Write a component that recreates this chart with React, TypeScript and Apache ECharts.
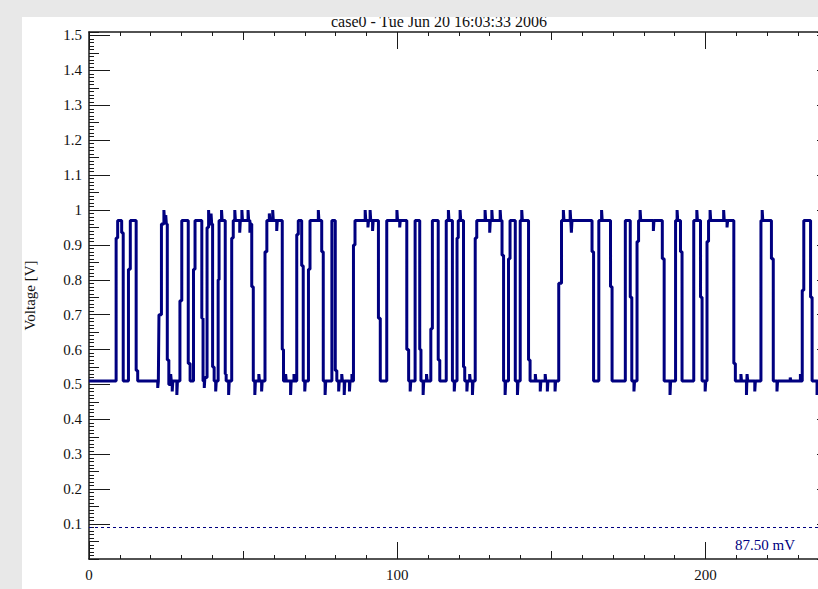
import React, { useEffect, useRef } from "react";
import * as echarts from "echarts";

const TITLE = "case0 - Tue Jun 20 16:03:33 2006";
const X_NAME = "Time [ns]";
const Y_NAME = "Voltage [V]";
const X_MIN = 0;
const X_MAX = 243;
const Y_MIN = 0;
const Y_MAX = 1.51;
const THRESHOLD = 0.0875;
const THRESHOLD_LABEL = "87.50 mV";

// Each point: level (V) held from that time (ns) until the next point.
const times = [
  0, 8.8, 9.3, 10.6, 11.1, 12.8, 13.4, 15.3, 15.8, 22.3, 22.5, 22.7, 23.5, 24.3, 24.5, 24.9, 25.1, 25.4, 25.9,
  26.5, 26.7, 27.0, 27.2, 28.5, 28.7, 29.5, 30.1, 32.2, 32.8, 33.9, 34.4, 36.6, 37.0, 37.4, 37.6, 38.3, 38.8,
  39.0, 39.6, 39.8, 40.1, 40.6, 41.1, 41.3, 41.9, 42.2, 43.0, 43.2, 44.2, 44.5, 45.3, 45.5, 46.3, 46.8, 47.3,
  47.5, 48.9, 49.1, 49.6, 49.8, 51.6, 51.8, 52.2, 52.4, 52.8, 53.3, 53.8, 54.0, 55.1, 55.3, 56.0, 56.2, 57.1,
  57.7, 58.5, 58.7, 59.6, 59.8, 60.9, 61.1, 62.7, 63.1, 63.8, 64.0, 65.4, 65.6, 66.5, 66.7, 67.4, 67.9, 69.0,
  69.5, 70.0, 70.2, 71.2, 71.7, 74.4, 74.6, 75.5, 76.0, 76.6, 76.8, 78.8, 79.9, 80.4, 81.0, 81.2, 82.0, 82.2,
  82.8, 83.0, 84.5, 84.7, 85.3, 85.5, 85.8, 86.3, 89.6, 89.8, 90.5, 90.7, 91.2, 91.4, 92.0, 92.2, 93.9, 94.5,
  96.6, 99.9, 100.1, 100.8, 101.0, 103.1, 103.7, 104.2, 104.4, 105.8, 107.3, 107.7, 108.4, 108.6, 109.5,
  109.7, 110.9, 111.4, 113.3, 113.8, 115.9, 116.6, 116.8, 117.9, 118.5, 118.7, 119.4, 119.8, 120.4, 120.6,
  121.5, 121.9, 122.6, 122.8, 123.5, 123.7, 124.4, 124.6, 125.3, 125.8, 128.5, 128.7, 130.0, 130.2, 130.7,
  130.9, 133.4, 133.6, 134.0, 134.5, 135.0, 135.2, 136.1, 136.6, 138.3, 139.0, 139.2, 139.9, 140.4, 140.6,
  142.6, 143.1, 144.8, 145.0, 146.4, 146.6, 148.0, 148.2, 148.7, 148.9, 151.2, 151.4, 152.4, 153.3, 153.9,
  154.1, 156.1, 156.3, 156.5, 156.7, 163.2, 163.7, 165.4, 166.3, 166.5, 169.2, 169.7, 174.0, 175.6, 176.1,
  176.8, 177.0, 177.8, 178.3, 178.8, 179.0, 183.1, 183.3, 186.0, 186.6, 188.5, 188.7, 190.3, 190.8, 191.0,
  191.9, 192.4, 196.2, 197.2, 197.4, 198.4, 198.9, 199.9, 200.1, 200.5, 201.0, 201.5, 201.7, 205.9, 206.1,
  207.0, 207.2, 209.2, 209.7, 211.5, 211.7, 213.3, 213.5, 213.7, 216.0, 216.2, 218.0, 218.4, 218.6, 221.4,
  222.0, 223.2, 223.4, 227.5, 227.7, 230.8, 231.0, 231.4, 231.9, 234.1, 234.6, 236.2, 236.4, 243,
];
const volts = [
  0.51, 0.92, 0.97, 0.935, 0.51, 0.83, 0.97, 0.54, 0.51, 0.49, 0.51, 0.7, 0.96, 1.0, 0.97, 0.985, 0.96, 0.57, 0.5,
  0.53, 0.51, 0.48, 0.51, 0.47, 0.51, 0.74, 0.97, 0.56, 0.51, 0.83, 0.97, 0.69, 0.51, 0.49, 0.52, 0.95, 1.0,
  0.96, 0.99, 0.96, 0.55, 0.51, 0.48, 0.51, 0.8, 0.97, 1.0, 0.97, 0.53, 0.51, 0.47, 0.51, 0.92, 0.97, 1.0,
  0.97, 0.935, 0.97, 1.0, 0.97, 1.0, 0.97, 0.935, 0.96, 0.78, 0.51, 0.47, 0.51, 0.53, 0.51, 0.48, 0.51, 0.88,
  0.97, 0.99, 0.97, 1.0, 0.97, 0.94, 0.97, 0.6, 0.51, 0.53, 0.51, 0.47, 0.51, 0.53, 0.51, 0.93, 0.97, 0.84,
  0.51, 0.48, 0.51, 0.83, 0.97, 1.0, 0.97, 0.88, 0.51, 0.47, 0.51, 0.97, 0.54, 0.51, 0.48, 0.51, 0.53, 0.51,
  0.47, 0.51, 0.48, 0.51, 0.53, 0.51, 0.9, 0.97, 1.0, 0.97, 0.95, 0.97, 1.0, 0.97, 0.94, 0.97, 0.69, 0.51,
  0.97, 1.0, 0.97, 0.95, 0.97, 0.6, 0.51, 0.48, 0.51, 0.97, 0.6, 0.51, 0.47, 0.51, 0.53,
  0.51, 0.66, 0.97, 0.57, 0.51, 0.97, 1.0, 0.97, 0.51, 0.48, 0.51, 0.92, 0.97, 1.0, 0.97,
  0.55, 0.51, 0.48, 0.51, 0.53, 0.51, 0.47, 0.51, 0.92, 0.97, 1.0, 0.97, 0.935, 0.97, 1.0,
  0.97, 1.0, 0.97, 0.87, 0.51, 0.47, 0.51, 0.86, 0.97, 0.51, 0.47, 0.51, 0.97, 1.0, 0.97,
  0.57, 0.51, 0.53, 0.51, 0.48, 0.51, 0.53, 0.51, 0.48, 0.51, 0.48, 0.51, 0.79, 0.97, 1.0,
  0.97, 1.0, 0.97, 0.935, 0.97, 0.88, 0.51, 0.97, 1.0, 0.97, 0.78, 0.51, 0.97, 0.75, 0.51,
  0.48, 0.51, 0.91, 0.97, 1.0, 0.97, 0.94, 0.97, 0.86, 0.51, 0.47, 0.51, 0.97, 1.0, 0.97,
  0.88, 0.51, 0.97, 1.0, 0.97, 0.75, 0.51, 0.48, 0.51, 0.91, 0.97, 1.0, 0.97, 1.0, 0.97,
  0.95, 0.97, 0.56, 0.51, 0.53, 0.51, 0.47, 0.53, 0.51, 0.48, 0.51, 0.97, 1.0, 0.97, 0.86,
  0.51, 0.48, 0.51, 0.52, 0.51, 0.53, 0.51, 0.77, 0.97, 0.75, 0.51, 0.47, 0.51, 0.51,
];

const NAVY = "#000080";
const AXIS = "#1a1a1a";
const FONT = "'Liberation Serif', 'DejaVu Serif', serif";

function xAx(position: "bottom" | "top", interval: number, len: number, main: boolean) {
  return {
    type: "value",
    gridIndex: 0,
    position,
    min: X_MIN,
    max: X_MAX,
    interval,
    splitLine: { show: false },
    axisLine: { show: main, onZero: false, lineStyle: { color: AXIS, width: 1.5 } },
    axisTick: { show: true, inside: true, length: len, lineStyle: { color: AXIS, width: 1 } },
    axisLabel: {
      show: main && position === "bottom",
      margin: 8,
      fontSize: 15,
      color: "#111",
      fontFamily: FONT,
      showMaxLabel: false,
    },
    name: main && position === "bottom" ? X_NAME : "",
    nameLocation: "middle",
    nameGap: 30,
    nameTextStyle: { fontSize: 15, color: "#111", fontFamily: FONT },
  };
}

function yAx(position: "left" | "right", interval: number, len: number, main: boolean) {
  return {
    type: "value",
    gridIndex: 0,
    position,
    min: Y_MIN,
    max: Y_MAX,
    interval,
    splitLine: { show: false },
    axisLine: { show: main, onZero: false, lineStyle: { color: AXIS, width: 1.5 } },
    axisTick: { show: true, inside: true, length: len, lineStyle: { color: AXIS, width: 1 } },
    axisLabel: {
      show: main && position === "left",
      margin: 7,
      fontSize: 15,
      color: "#111",
      fontFamily: FONT,
      showMinLabel: false,
      showMaxLabel: false,
      formatter: (v: number) => String(+v.toFixed(2)),
    },
    name: main && position === "left" ? Y_NAME : "",
    nameLocation: "middle",
    nameGap: 52,
    nameTextStyle: { fontSize: 15, color: "#111", fontFamily: FONT },
  };
}

export default function App() {
  const ref = useRef<HTMLDivElement>(null);
  useEffect(() => {
    if (!ref.current) return;
    const chart = echarts.init(ref.current, undefined, { renderer: "svg" });
    const data = times.map((t, i) => [t, volts[i]]);
    chart.setOption({
      animation: false,
      backgroundColor: "#ffffff",
      title: {
        text: TITLE,
        left: "center",
        top: -9,
        textStyle: { fontSize: 16, fontWeight: "normal", color: "#111", fontFamily: FONT },
      },
      grid: { left: 67, top: 15, right: 18, bottom: 58, containLabel: false, outerBoundsMode: "none" },
      xAxis: [
        xAx("bottom", 100, 17, true),
        xAx("bottom", 50, 8, false),
        xAx("bottom", 10, 4, false),
        xAx("top", 100, 17, true),
        xAx("top", 50, 8, false),
        xAx("top", 10, 4, false),
      ],
      yAxis: [
        yAx("left", 0.1, 21, true),
        yAx("left", 0.05, 10, false),
        yAx("left", 0.01, 5, false),
        yAx("right", 0.1, 21, true),
        yAx("right", 0.05, 10, false),
        yAx("right", 0.01, 5, false),
      ],
      series: [
        {
          type: "line",
          xAxisIndex: 0,
          yAxisIndex: 0,
          data,
          step: "end",
          showSymbol: false,
          symbol: "none",
          color: NAVY,
          lineStyle: { color: NAVY, width: 3 },
          markLine: {
            silent: true,
            symbol: ["none", "none"],
            data: [{ yAxis: THRESHOLD }],
            lineStyle: { color: NAVY, type: [3, 3], width: 1 },
            label: {
              show: true,
              position: "insideEndBottom",
              formatter: THRESHOLD_LABEL,
              color: NAVY,
              fontSize: 15,
              fontFamily: FONT,
              padding: [5, 38, 0, 0],
            },
          },
        },
      ],
    });
    return () => chart.dispose();
  }, []);

  return (
    <div
      style={{
        position: "fixed",
        left: 0,
        top: 0,
        width: 818,
        height: 589,
        background: "#e8e8e8",
        overflow: "hidden",
      }}
    >
      <div
        style={{
          position: "absolute",
          left: 22,
          top: 17,
          width: 834,
          height: 600,
          background: "#ffffff",
          overflow: "hidden",
        }}
      >
        <div ref={ref} style={{ width: 834, height: 600 }} />
      </div>
    </div>
  );
}
